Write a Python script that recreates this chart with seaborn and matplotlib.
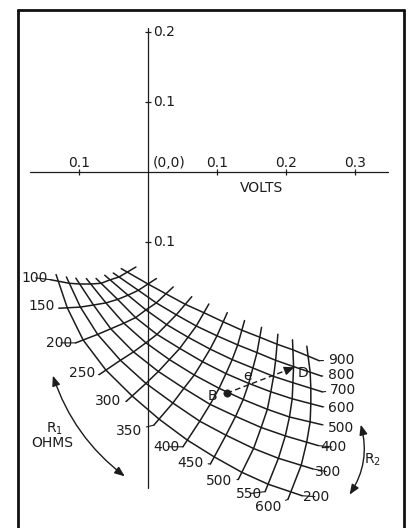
import numpy as np
import pandas as pd
import matplotlib
matplotlib.use('Agg')
import matplotlib.pyplot as plt
import seaborn as sns
from matplotlib.patches import FancyArrowPatch
from matplotlib.lines import Line2D

r1_ohms = [100, 150, 200, 250, 300, 350, 400, 450, 500, 550, 600]
r2_ohms = [200, 300, 400, 500, 600, 700, 800, 900]

x_ticks = [-0.1, 0.1, 0.2, 0.3]
x_tick_labels = ['0.1', '0.1', '0.2', '0.3']
y_ticks = [0.2, 0.1, -0.1]
y_tick_labels = ['0.2', '0.1', '0.1']

# volts where the curves cross: one row per R1 value, one column per R2 value
node_x = [[-0.13, -0.114, -0.099, -0.083, -0.068, -0.055, -0.042, -0.03],
          [-0.117, -0.098, -0.079, -0.061, -0.044, -0.029, -0.014, 0.0],
          [-0.094, -0.073, -0.054, -0.035, -0.018, -0.003, 0.012, 0.026],
          [-0.061, -0.04, -0.021, -0.003, 0.013, 0.027, 0.041, 0.054],
          [-0.023, -0.003, 0.015, 0.031, 0.046, 0.058, 0.07, 0.081],
          [0.016, 0.036, 0.052, 0.067, 0.079, 0.09, 0.1, 0.109],
          [0.057, 0.075, 0.09, 0.103, 0.113, 0.122, 0.13, 0.136],
          [0.096, 0.113, 0.127, 0.138, 0.146, 0.152, 0.158, 0.162],
          [0.136, 0.153, 0.164, 0.173, 0.178, 0.182, 0.185, 0.187],
          [0.174, 0.189, 0.199, 0.205, 0.209, 0.21, 0.211, 0.21],
          [0.207, 0.222, 0.23, 0.235, 0.236, 0.236, 0.235, 0.232]]
node_y = [[-0.156, -0.159, -0.16, -0.16, -0.159, -0.154, -0.15, -0.143],
          [-0.194, -0.193, -0.19, -0.187, -0.182, -0.176, -0.169, -0.16],
          [-0.24, -0.232, -0.224, -0.216, -0.208, -0.197, -0.187, -0.174],
          [-0.283, -0.269, -0.257, -0.244, -0.232, -0.218, -0.204, -0.189],
          [-0.32, -0.302, -0.285, -0.268, -0.252, -0.236, -0.22, -0.201],
          [-0.353, -0.33, -0.309, -0.29, -0.271, -0.253, -0.234, -0.214],
          [-0.383, -0.356, -0.332, -0.309, -0.288, -0.268, -0.247, -0.226],
          [-0.407, -0.376, -0.349, -0.325, -0.302, -0.28, -0.258, -0.236],
          [-0.429, -0.395, -0.365, -0.339, -0.314, -0.292, -0.269, -0.246],
          [-0.446, -0.409, -0.377, -0.35, -0.324, -0.301, -0.278, -0.254],
          [-0.457, -0.419, -0.386, -0.357, -0.331, -0.309, -0.286, -0.263]]

point_b = (0.114, -0.316)
point_d = (0.212, -0.279)

sns.set_style('white')
plt.rcParams['font.family'] = ['DejaVu Sans']
ink = '#1c1c1c'
fs = 10

# the drawing is laid out at 690 px per volt across and 700 px per volt down
PX = 1 / 690
PY = 1 / 700


def pix(px, py):
    return (px - 148) * PX, (172 - py) * PY


def stub(p_end, p_prev, length):
    d = np.array([(p_end[0] - p_prev[0]) / PX, (p_end[1] - p_prev[1]) / PY])
    d = d / np.hypot(*d) * length
    return (p_end[0] + d[0] * PX, p_end[1] + d[1] * PY)


nx = np.array(node_x)
ny = np.array(node_y)
nodes = np.stack([nx, ny], axis=-1)

fig = plt.figure(figsize=(4.09, 5.28), dpi=100)
ax = fig.add_axes([0, 0, 1, 1])
ax.set_xlim(pix(0, 0)[0], pix(409, 0)[0])
ax.set_ylim(pix(0, 528)[1], pix(0, 0)[1])
ax.axis('off')

# frame (open at the bottom, as on the page)
for xs, ys in [([18, 18], [528, 10]), ([18, 404], [10, 10]), ([404, 404], [10, 528])]:
    fig.add_artist(Line2D([x / 409 for x in xs], [1 - y / 528 for y in ys],
                          transform=fig.transFigure, color='#111', lw=2.0))

# axes through the origin
sns.lineplot(x=[0, 0], y=[pix(0, 28)[1], pix(0, 488)[1]], estimator=None, sort=False,
             color=ink, lw=0.9, ax=ax)
sns.lineplot(x=[pix(30, 0)[0], pix(388, 0)[0]], y=[0, 0], estimator=None, sort=False,
             color=ink, lw=0.9, ax=ax)
ax.vlines(x_ticks, -3 * PY, 3 * PY, color=ink, lw=0.9)
ax.hlines(y_ticks, -3 * PX, 3 * PX, color=ink, lw=0.9)
for v, lab in zip(x_ticks, x_tick_labels):
    ax.annotate(lab, (v, 0), xytext=(0, 9), textcoords='offset pixels',
                ha='center', va='center', fontsize=fs, color=ink)
for v, lab in zip(y_ticks, y_tick_labels):
    ax.annotate(lab, (0, v), xytext=(5, 0), textcoords='offset pixels',
                ha='left', va='center', fontsize=fs, color=ink)
ax.annotate('(0,0)', (0, 0), xytext=(5, 9), textcoords='offset pixels',
            ha='left', va='center', fontsize=fs, color=ink)
ax.text(*pix(262, 188), 'VOLTS', ha='center', va='center', fontsize=fs, color=ink)

# the R1 / R2 mesh, each curve running a little past the outer curves
rows = []
r1_ends = []
for i, r1 in enumerate(r1_ohms):
    lo = stub(nodes[i, 0], nodes[i, 1], 8)
    hi = stub(nodes[i, -1], nodes[i, -2], 10)
    pts = [lo] + [tuple(p) for p in nodes[i]] + [hi]
    r1_ends.append(lo)
    rows += [('R1=%d' % r1, k, p[0], p[1]) for k, p in enumerate(pts)]
r2_ends = []
for j, r2 in enumerate(r2_ohms):
    lo = stub(nodes[0, j], nodes[1, j], 7)
    hi = stub(nodes[-1, j], nodes[-2, j], 12)
    pts = [lo] + [tuple(p) for p in nodes[:, j]] + [hi]
    r2_ends.append(hi)
    rows += [('R2=%d' % r2, k, p[0], p[1]) for k, p in enumerate(pts)]
mesh = pd.DataFrame(rows, columns=['curve', 'k', 'x', 'y'])
sns.lineplot(data=mesh, x='x', y='y', units='curve', estimator=None, sort=False,
             color=ink, lw=1.1, ax=ax)

# value labels with short leaders
r1_nudge = [(-3, 2), (-4, 2), (-3, 0), (-4, 2), (-5, 0), (-12, -6),
            (-3, 0), (-7, 1), (-6, -2), (-3, -2), (-7, -8)]
for r1, end, off in zip(r1_ohms, r1_ends, r1_nudge):
    ax.annotate(str(r1), end, xytext=off, textcoords='offset pixels', ha='right', va='center',
                fontsize=fs, color=ink,
                arrowprops=dict(arrowstyle='-', color=ink, lw=0.8, shrinkA=1, shrinkB=0))
r2_nudge = [(1, -1), (2, -3), (2, -1.5), (6, -3), (6, -1), (8, 2), (6, 1), (9, 1)]
for r2, end, off in zip(r2_ohms, r2_ends, r2_nudge):
    ax.annotate(str(r2), end, xytext=off, textcoords='offset pixels', ha='left', va='center',
                fontsize=fs, color=ink,
                arrowprops=dict(arrowstyle='-', color=ink, lw=0.8, shrinkA=1, shrinkB=0))

# range arrows
ax.add_patch(FancyArrowPatch(pix(52, 373), pix(127, 478), connectionstyle='arc3,rad=0.16',
                             arrowstyle='<|-|>,head_length=0.5,head_width=0.2',
                             mutation_scale=12, lw=1.0, color=ink))
ax.add_patch(FancyArrowPatch(pix(360, 422), pix(348, 497), connectionstyle='arc3,rad=-0.24',
                             arrowstyle='<|-|>,head_length=0.5,head_width=0.2',
                             mutation_scale=12, lw=1.0, color=ink))
ax.text(*pix(55, 429), 'R$_1$', ha='center', va='center', fontsize=fs, color=ink)
ax.text(*pix(52, 443), 'OHMS', ha='center', va='center', fontsize=fs, color=ink)
ax.text(*pix(372, 460), 'R$_2$', ha='center', va='center', fontsize=fs, color=ink)

# the error vector e from B to D
sns.lineplot(x=[point_b[0], point_d[0]], y=[point_b[1], point_d[1]], estimator=None, sort=False,
             color=ink, lw=1.0, linestyle=(0, (4, 2.5)), ax=ax)
vec = np.array(point_d) - np.array(point_b)
ax.annotate('', xy=point_d, xytext=tuple(np.array(point_d) - vec * 0.08),
            arrowprops=dict(arrowstyle='-|>,head_length=0.5,head_width=0.22', mutation_scale=12,
                            lw=0.9, color=ink, shrinkA=0, shrinkB=0))
sns.scatterplot(x=[point_b[0]], y=[point_b[1]], s=28, color=ink, edgecolor=ink, ax=ax, zorder=5)
ax.annotate('B', point_b, xytext=(-14, -3), textcoords='offset pixels', ha='center', va='center',
            fontsize=fs, color=ink)
ax.annotate('e', point_b, xytext=(21, 17), textcoords='offset pixels', ha='center', va='center',
            fontsize=fs, color=ink)
ax.annotate('D', point_d, xytext=(9, -6), textcoords='offset pixels', ha='center', va='center',
            fontsize=fs, color=ink)

fig.savefig('out.png', dpi=100)
